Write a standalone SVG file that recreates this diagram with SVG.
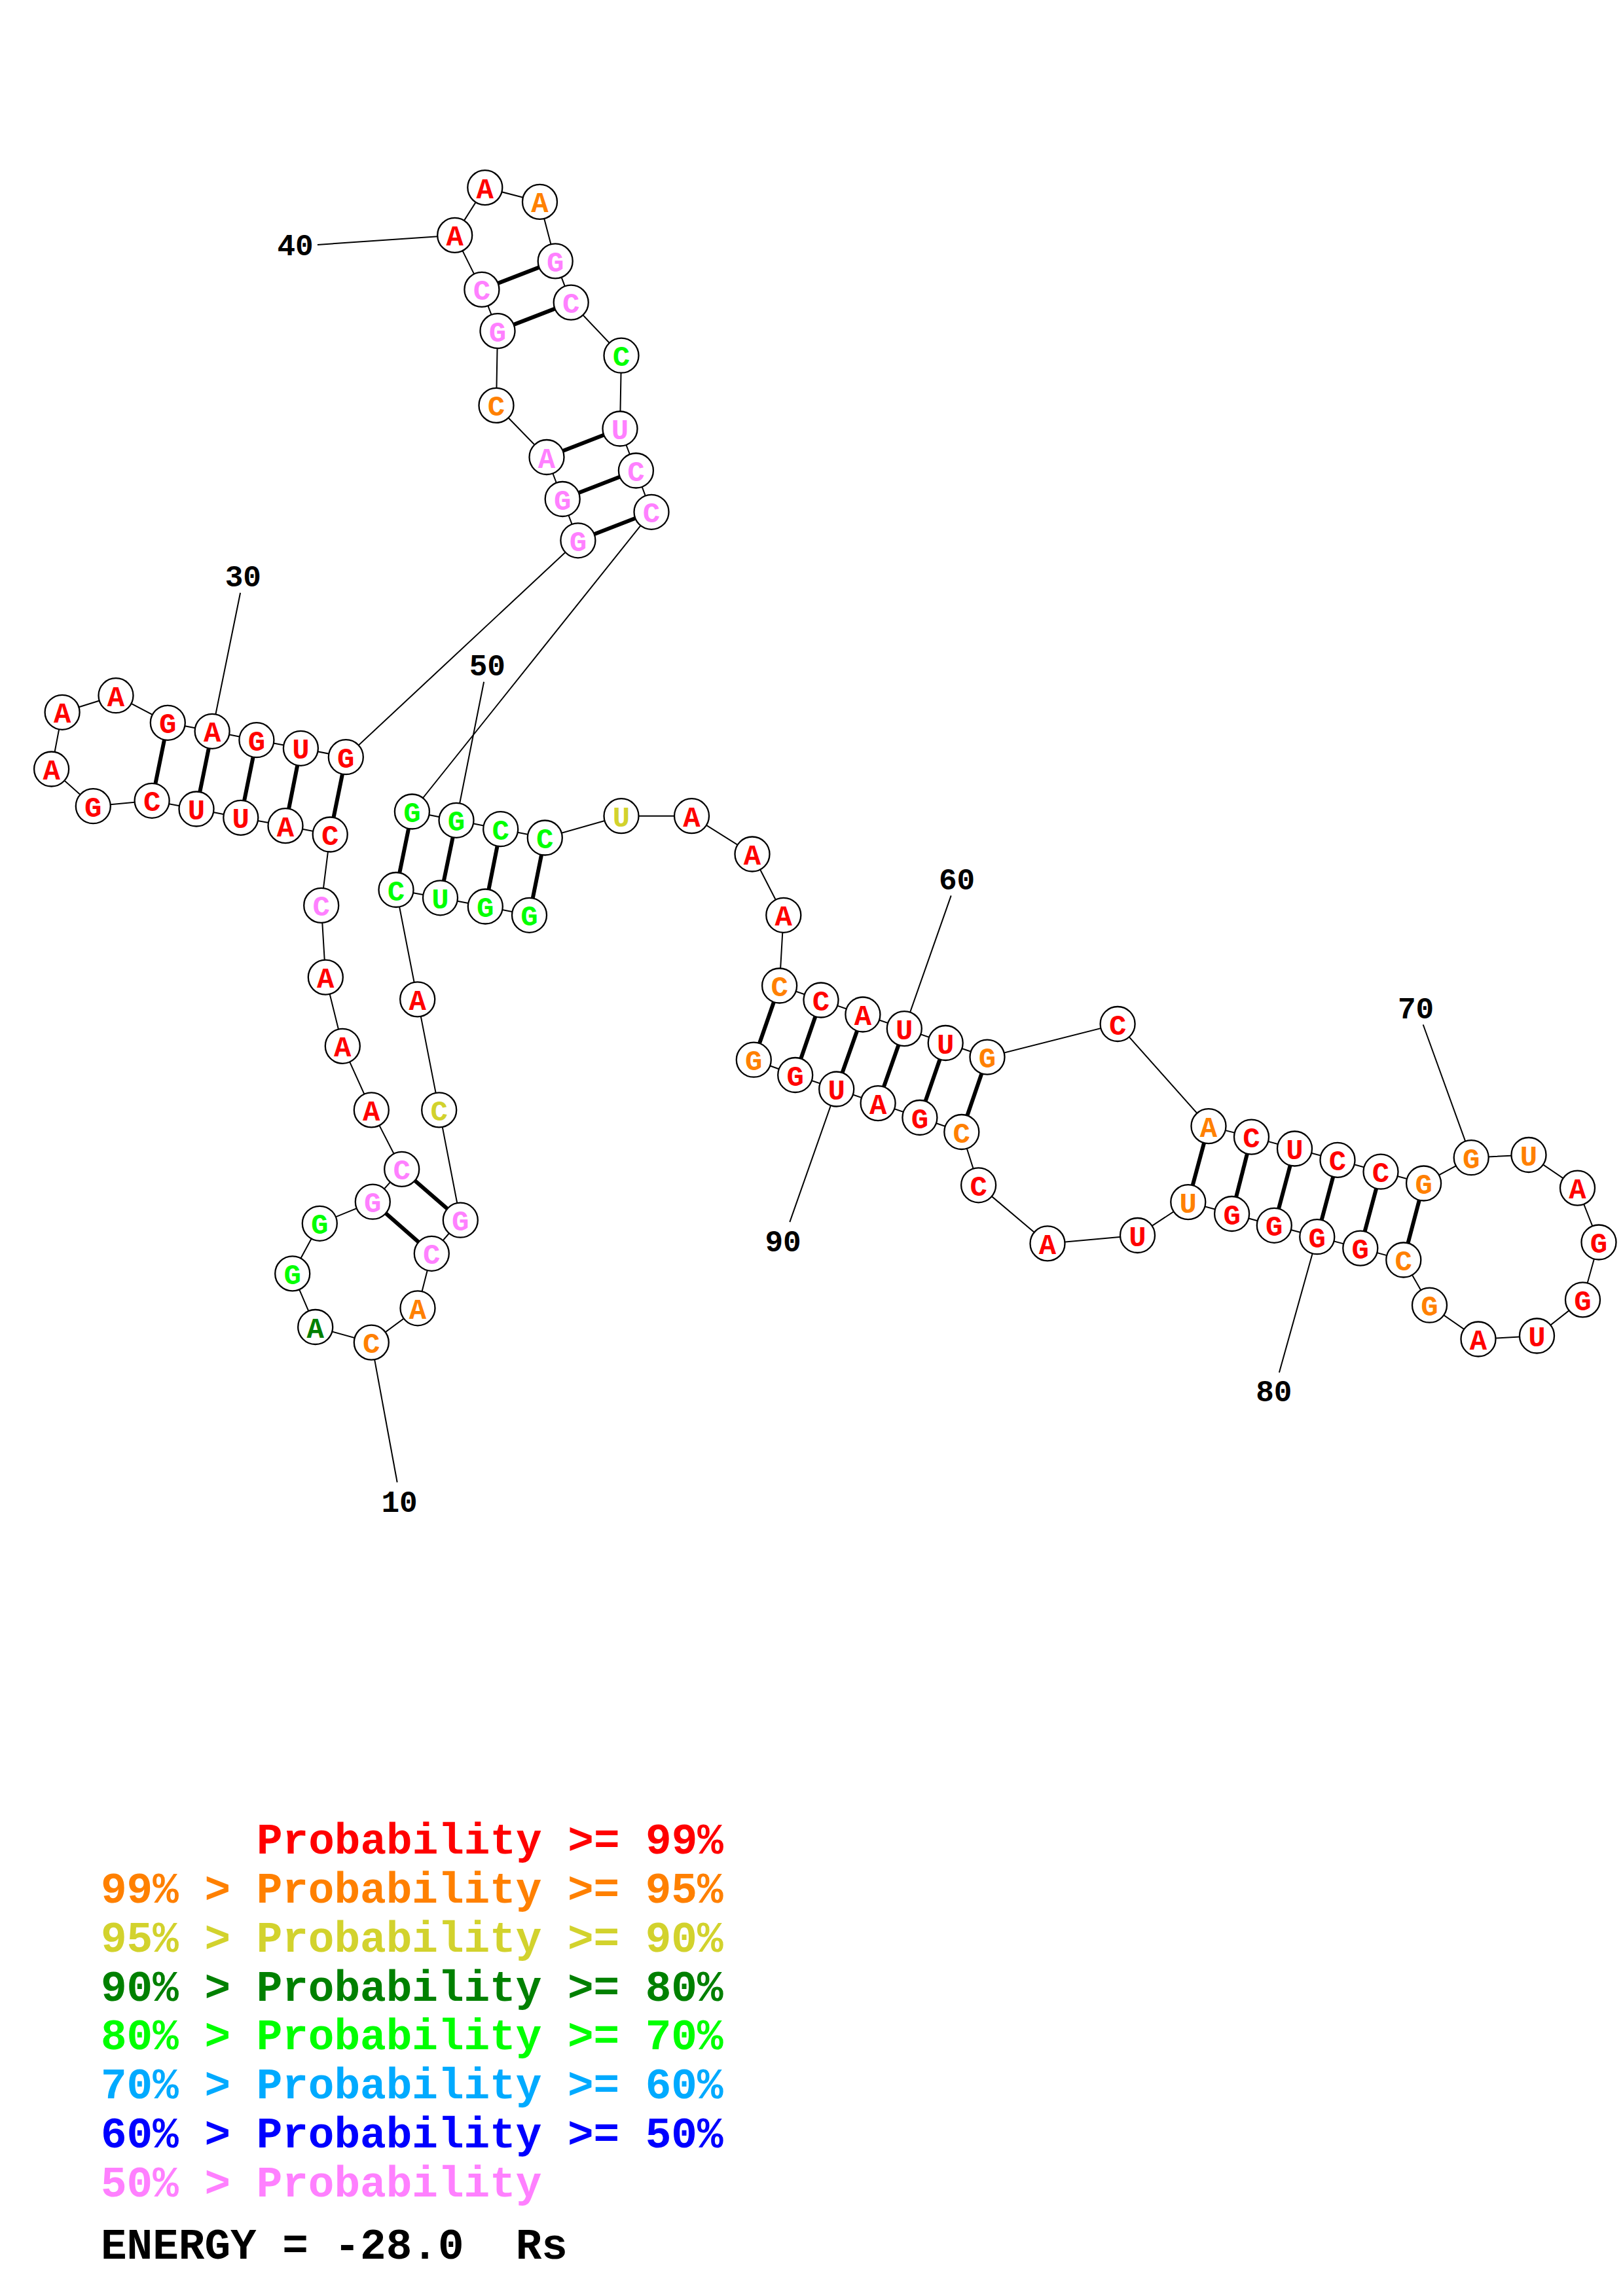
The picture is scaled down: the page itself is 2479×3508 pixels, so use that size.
<svg xmlns="http://www.w3.org/2000/svg" width="2479" height="3508" viewBox="0 0 2479 3508">
<style>
.bb{stroke:#000;stroke-width:2;fill:none}
.bp{stroke:#000;stroke-width:6}
.tk{stroke:#000;stroke-width:2}
.n circle{fill:#fff;stroke:#000;stroke-width:2.3}
.n text{font-family:"Liberation Mono",monospace;font-weight:bold;font-size:44px;text-anchor:middle}
.lb{font-family:"Liberation Mono",monospace;font-weight:bold;font-size:46px;text-anchor:middle;fill:#000}
.lg{font-family:"Liberation Mono",monospace;font-weight:bold;font-size:66px}
.r{fill:#ff0000}.o{fill:#ff8000}.y{fill:#d2d22d}.d{fill:#008000}.g{fill:#00ff00}.c{fill:#00aaff}.b{fill:#0000ff}.p{fill:#ff80ff}.k{fill:#000}
</style>
<rect width="2479" height="3508" fill="#fff"/>
<g id="connectors">
<polyline class="bb" points="808.5,1398.3 741.3,1385 672.5,1371.8 605,1359.5 637.7,1526.9 670.7,1695.9 703.3,1864.2 659.3,1915.3 638,1998.8 567.3,2051.1 481.7,2027.5 446.7,1945.9 488.3,1869.3 569.3,1836.2 613.7,1786.4 567.3,1695.9 523.3,1598.3 497.3,1493.1 490.7,1383.4 504.2,1275 436,1261.7 367.8,1249.3 300,1236 232.1,1223.3 142.3,1231.7 78.6,1175 95.1,1088.3 177,1062.7 256.3,1104.3 324.1,1117.3 391.9,1130.7 459.4,1143.3 528.3,1156.7 882.9,825.8 859.2,762.5 835,698.5 758,619.4 760,505.6 735.9,442.4 694.7,359.4 740.8,286.6 824.5,308.4 848.2,398.9 872.2,462.1 949,543.2 947,655 971.4,719 995,782.3 629.4,1240 697,1253.3 764.7,1266.7 832.3,1280 949,1246.7 1056.5,1246.7 1149,1305 1196.8,1398.3 1190.6,1506 1254,1528 1317.9,1550 1381.3,1571.6 1444.2,1593.5 1508,1615.1 1707.1,1564.5 1846,1720.6 1911.5,1737.1 1977.5,1755 2043,1772.4 2109,1790.2 2174.6,1808 2247.2,1768.7 2335,1764.5 2409.5,1815.1 2442,1898 2417.5,1985.9 2347.5,2041 2258,2046 2183.5,1994.2 2143.8,1925 2077.8,1907.1 2011.8,1889.7 1946.3,1872.3 1881.6,1854.5 1814.8,1836.6 1737.5,1887.5 1600,1899.9 1494.6,1810.8 1468.8,1729.5 1404.9,1707.5 1341.1,1685.6 1277.7,1664 1214.7,1642.5 1151.3,1619.2"/>
<line class="bp" x1="808.5" y1="1398.3" x2="832.3" y2="1280"/>
<line class="bp" x1="741.3" y1="1385" x2="764.7" y2="1266.7"/>
<line class="bp" x1="672.5" y1="1371.8" x2="697" y2="1253.3"/>
<line class="bp" x1="605" y1="1359.5" x2="629.4" y2="1240"/>
<line class="bp" x1="703.3" y1="1864.2" x2="613.7" y2="1786.4"/>
<line class="bp" x1="659.3" y1="1915.3" x2="569.3" y2="1836.2"/>
<line class="bp" x1="504.2" y1="1275" x2="528.3" y2="1156.7"/>
<line class="bp" x1="436" y1="1261.7" x2="459.4" y2="1143.3"/>
<line class="bp" x1="367.8" y1="1249.3" x2="391.9" y2="1130.7"/>
<line class="bp" x1="300" y1="1236" x2="324.1" y2="1117.3"/>
<line class="bp" x1="232.1" y1="1223.3" x2="256.3" y2="1104.3"/>
<line class="bp" x1="882.9" y1="825.8" x2="995" y2="782.3"/>
<line class="bp" x1="859.2" y1="762.5" x2="971.4" y2="719"/>
<line class="bp" x1="835" y1="698.5" x2="947" y2="655"/>
<line class="bp" x1="760" y1="505.6" x2="872.2" y2="462.1"/>
<line class="bp" x1="735.9" y1="442.4" x2="848.2" y2="398.9"/>
<line class="bp" x1="1190.6" y1="1506" x2="1151.3" y2="1619.2"/>
<line class="bp" x1="1254" y1="1528" x2="1214.7" y2="1642.5"/>
<line class="bp" x1="1317.9" y1="1550" x2="1277.7" y2="1664"/>
<line class="bp" x1="1381.3" y1="1571.6" x2="1341.1" y2="1685.6"/>
<line class="bp" x1="1444.2" y1="1593.5" x2="1404.9" y2="1707.5"/>
<line class="bp" x1="1508" y1="1615.1" x2="1468.8" y2="1729.5"/>
<line class="bp" x1="1846" y1="1720.6" x2="1814.8" y2="1836.6"/>
<line class="bp" x1="1911.5" y1="1737.1" x2="1881.6" y2="1854.5"/>
<line class="bp" x1="1977.5" y1="1755" x2="1946.3" y2="1872.3"/>
<line class="bp" x1="2043" y1="1772.4" x2="2011.8" y2="1889.7"/>
<line class="bp" x1="2109" y1="1790.2" x2="2077.8" y2="1907.1"/>
<line class="bp" x1="2174.6" y1="1808" x2="2143.8" y2="1925"/>
<line class="tk" x1="606.7" y1="2264.7" x2="567.3" y2="2051.1"/>
<line class="tk" x1="367.1" y1="905.7" x2="324.1" y2="1117.3"/>
<line class="tk" x1="484.9" y1="373.9" x2="694.7" y2="359.4"/>
<line class="tk" x1="739.1" y1="1041.7" x2="697" y2="1253.3"/>
<line class="tk" x1="1452.7" y1="1368.4" x2="1381.3" y2="1571.6"/>
<line class="tk" x1="2173.7" y1="1565.5" x2="2247.2" y2="1768.7"/>
<line class="tk" x1="1953.9" y1="2097" x2="2011.8" y2="1889.7"/>
<line class="tk" x1="1206.3" y1="1867.2" x2="1277.7" y2="1664"/>
</g>
<g id="nodes">
<g id="n1" class="n"><circle cx="808.5" cy="1398.3" r="26.5"/><text x="808.5" y="1414.3" class="g">G</text></g>
<g id="n2" class="n"><circle cx="741.3" cy="1385" r="26.5"/><text x="741.3" y="1401" class="g">G</text></g>
<g id="n3" class="n"><circle cx="672.5" cy="1371.8" r="26.5"/><text x="672.5" y="1387.8" class="g">U</text></g>
<g id="n4" class="n"><circle cx="605" cy="1359.5" r="26.5"/><text x="605" y="1375.5" class="g">C</text></g>
<g id="n5" class="n"><circle cx="637.7" cy="1526.9" r="26.5"/><text x="637.7" y="1542.9" class="r">A</text></g>
<g id="n6" class="n"><circle cx="670.7" cy="1695.9" r="26.5"/><text x="670.7" y="1711.9" class="y">C</text></g>
<g id="n7" class="n"><circle cx="703.3" cy="1864.2" r="26.5"/><text x="703.3" y="1880.2" class="p">G</text></g>
<g id="n8" class="n"><circle cx="659.3" cy="1915.3" r="26.5"/><text x="659.3" y="1931.3" class="p">C</text></g>
<g id="n9" class="n"><circle cx="638" cy="1998.8" r="26.5"/><text x="638" y="2014.8" class="o">A</text></g>
<g id="n10" class="n"><circle cx="567.3" cy="2051.1" r="26.5"/><text x="567.3" y="2067.1" class="o">C</text></g>
<g id="n11" class="n"><circle cx="481.7" cy="2027.5" r="26.5"/><text x="481.7" y="2043.5" class="d">A</text></g>
<g id="n12" class="n"><circle cx="446.7" cy="1945.9" r="26.5"/><text x="446.7" y="1961.9" class="g">G</text></g>
<g id="n13" class="n"><circle cx="488.3" cy="1869.3" r="26.5"/><text x="488.3" y="1885.3" class="g">G</text></g>
<g id="n14" class="n"><circle cx="569.3" cy="1836.2" r="26.5"/><text x="569.3" y="1852.2" class="p">G</text></g>
<g id="n15" class="n"><circle cx="613.7" cy="1786.4" r="26.5"/><text x="613.7" y="1802.4" class="p">C</text></g>
<g id="n16" class="n"><circle cx="567.3" cy="1695.9" r="26.5"/><text x="567.3" y="1711.9" class="r">A</text></g>
<g id="n17" class="n"><circle cx="523.3" cy="1598.3" r="26.5"/><text x="523.3" y="1614.3" class="r">A</text></g>
<g id="n18" class="n"><circle cx="497.3" cy="1493.1" r="26.5"/><text x="497.3" y="1509.1" class="r">A</text></g>
<g id="n19" class="n"><circle cx="490.7" cy="1383.4" r="26.5"/><text x="490.7" y="1399.4" class="p">C</text></g>
<g id="n20" class="n"><circle cx="504.2" cy="1275" r="26.5"/><text x="504.2" y="1291" class="r">C</text></g>
<g id="n21" class="n"><circle cx="436" cy="1261.7" r="26.5"/><text x="436" y="1277.7" class="r">A</text></g>
<g id="n22" class="n"><circle cx="367.8" cy="1249.3" r="26.5"/><text x="367.8" y="1265.3" class="r">U</text></g>
<g id="n23" class="n"><circle cx="300" cy="1236" r="26.5"/><text x="300" y="1252" class="r">U</text></g>
<g id="n24" class="n"><circle cx="232.1" cy="1223.3" r="26.5"/><text x="232.1" y="1239.3" class="r">C</text></g>
<g id="n25" class="n"><circle cx="142.3" cy="1231.7" r="26.5"/><text x="142.3" y="1247.7" class="r">G</text></g>
<g id="n26" class="n"><circle cx="78.6" cy="1175" r="26.5"/><text x="78.6" y="1191" class="r">A</text></g>
<g id="n27" class="n"><circle cx="95.1" cy="1088.3" r="26.5"/><text x="95.1" y="1104.3" class="r">A</text></g>
<g id="n28" class="n"><circle cx="177" cy="1062.7" r="26.5"/><text x="177" y="1078.7" class="r">A</text></g>
<g id="n29" class="n"><circle cx="256.3" cy="1104.3" r="26.5"/><text x="256.3" y="1120.3" class="r">G</text></g>
<g id="n30" class="n"><circle cx="324.1" cy="1117.3" r="26.5"/><text x="324.1" y="1133.3" class="r">A</text></g>
<g id="n31" class="n"><circle cx="391.9" cy="1130.7" r="26.5"/><text x="391.9" y="1146.7" class="r">G</text></g>
<g id="n32" class="n"><circle cx="459.4" cy="1143.3" r="26.5"/><text x="459.4" y="1159.3" class="r">U</text></g>
<g id="n33" class="n"><circle cx="528.3" cy="1156.7" r="26.5"/><text x="528.3" y="1172.7" class="r">G</text></g>
<g id="n34" class="n"><circle cx="882.9" cy="825.8" r="26.5"/><text x="882.9" y="841.8" class="p">G</text></g>
<g id="n35" class="n"><circle cx="859.2" cy="762.5" r="26.5"/><text x="859.2" y="778.5" class="p">G</text></g>
<g id="n36" class="n"><circle cx="835" cy="698.5" r="26.5"/><text x="835" y="714.5" class="p">A</text></g>
<g id="n37" class="n"><circle cx="758" cy="619.4" r="26.5"/><text x="758" y="635.4" class="o">C</text></g>
<g id="n38" class="n"><circle cx="760" cy="505.6" r="26.5"/><text x="760" y="521.6" class="p">G</text></g>
<g id="n39" class="n"><circle cx="735.9" cy="442.4" r="26.5"/><text x="735.9" y="458.4" class="p">C</text></g>
<g id="n40" class="n"><circle cx="694.7" cy="359.4" r="26.5"/><text x="694.7" y="375.4" class="r">A</text></g>
<g id="n41" class="n"><circle cx="740.8" cy="286.6" r="26.5"/><text x="740.8" y="302.6" class="r">A</text></g>
<g id="n42" class="n"><circle cx="824.5" cy="308.4" r="26.5"/><text x="824.5" y="324.4" class="o">A</text></g>
<g id="n43" class="n"><circle cx="848.2" cy="398.9" r="26.5"/><text x="848.2" y="414.9" class="p">G</text></g>
<g id="n44" class="n"><circle cx="872.2" cy="462.1" r="26.5"/><text x="872.2" y="478.1" class="p">C</text></g>
<g id="n45" class="n"><circle cx="949" cy="543.2" r="26.5"/><text x="949" y="559.2" class="g">C</text></g>
<g id="n46" class="n"><circle cx="947" cy="655" r="26.5"/><text x="947" y="671" class="p">U</text></g>
<g id="n47" class="n"><circle cx="971.4" cy="719" r="26.5"/><text x="971.4" y="735" class="p">C</text></g>
<g id="n48" class="n"><circle cx="995" cy="782.3" r="26.5"/><text x="995" y="798.3" class="p">C</text></g>
<g id="n49" class="n"><circle cx="629.4" cy="1240" r="26.5"/><text x="629.4" y="1256" class="g">G</text></g>
<g id="n50" class="n"><circle cx="697" cy="1253.3" r="26.5"/><text x="697" y="1269.3" class="g">G</text></g>
<g id="n51" class="n"><circle cx="764.7" cy="1266.7" r="26.5"/><text x="764.7" y="1282.7" class="g">C</text></g>
<g id="n52" class="n"><circle cx="832.3" cy="1280" r="26.5"/><text x="832.3" y="1296" class="g">C</text></g>
<g id="n53" class="n"><circle cx="949" cy="1246.7" r="26.5"/><text x="949" y="1262.7" class="y">U</text></g>
<g id="n54" class="n"><circle cx="1056.5" cy="1246.7" r="26.5"/><text x="1056.5" y="1262.7" class="r">A</text></g>
<g id="n55" class="n"><circle cx="1149" cy="1305" r="26.5"/><text x="1149" y="1321" class="r">A</text></g>
<g id="n56" class="n"><circle cx="1196.8" cy="1398.3" r="26.5"/><text x="1196.8" y="1414.3" class="r">A</text></g>
<g id="n57" class="n"><circle cx="1190.6" cy="1506" r="26.5"/><text x="1190.6" y="1522" class="o">C</text></g>
<g id="n58" class="n"><circle cx="1254" cy="1528" r="26.5"/><text x="1254" y="1544" class="r">C</text></g>
<g id="n59" class="n"><circle cx="1317.9" cy="1550" r="26.5"/><text x="1317.9" y="1566" class="r">A</text></g>
<g id="n60" class="n"><circle cx="1381.3" cy="1571.6" r="26.5"/><text x="1381.3" y="1587.6" class="r">U</text></g>
<g id="n61" class="n"><circle cx="1444.2" cy="1593.5" r="26.5"/><text x="1444.2" y="1609.5" class="r">U</text></g>
<g id="n62" class="n"><circle cx="1508" cy="1615.1" r="26.5"/><text x="1508" y="1631.1" class="o">G</text></g>
<g id="n63" class="n"><circle cx="1707.1" cy="1564.5" r="26.5"/><text x="1707.1" y="1580.5" class="r">C</text></g>
<g id="n64" class="n"><circle cx="1846" cy="1720.6" r="26.5"/><text x="1846" y="1736.6" class="o">A</text></g>
<g id="n65" class="n"><circle cx="1911.5" cy="1737.1" r="26.5"/><text x="1911.5" y="1753.1" class="r">C</text></g>
<g id="n66" class="n"><circle cx="1977.5" cy="1755" r="26.5"/><text x="1977.5" y="1771" class="r">U</text></g>
<g id="n67" class="n"><circle cx="2043" cy="1772.4" r="26.5"/><text x="2043" y="1788.4" class="r">C</text></g>
<g id="n68" class="n"><circle cx="2109" cy="1790.2" r="26.5"/><text x="2109" y="1806.2" class="r">C</text></g>
<g id="n69" class="n"><circle cx="2174.6" cy="1808" r="26.5"/><text x="2174.6" y="1824" class="o">G</text></g>
<g id="n70" class="n"><circle cx="2247.2" cy="1768.7" r="26.5"/><text x="2247.2" y="1784.7" class="o">G</text></g>
<g id="n71" class="n"><circle cx="2335" cy="1764.5" r="26.5"/><text x="2335" y="1780.5" class="o">U</text></g>
<g id="n72" class="n"><circle cx="2409.5" cy="1815.1" r="26.5"/><text x="2409.5" y="1831.1" class="r">A</text></g>
<g id="n73" class="n"><circle cx="2442" cy="1898" r="26.5"/><text x="2442" y="1914" class="r">G</text></g>
<g id="n74" class="n"><circle cx="2417.5" cy="1985.9" r="26.5"/><text x="2417.5" y="2001.9" class="r">G</text></g>
<g id="n75" class="n"><circle cx="2347.5" cy="2041" r="26.5"/><text x="2347.5" y="2057" class="r">U</text></g>
<g id="n76" class="n"><circle cx="2258" cy="2046" r="26.5"/><text x="2258" y="2062" class="r">A</text></g>
<g id="n77" class="n"><circle cx="2183.5" cy="1994.2" r="26.5"/><text x="2183.5" y="2010.2" class="o">G</text></g>
<g id="n78" class="n"><circle cx="2143.8" cy="1925" r="26.5"/><text x="2143.8" y="1941" class="o">C</text></g>
<g id="n79" class="n"><circle cx="2077.8" cy="1907.1" r="26.5"/><text x="2077.8" y="1923.1" class="r">G</text></g>
<g id="n80" class="n"><circle cx="2011.8" cy="1889.7" r="26.5"/><text x="2011.8" y="1905.7" class="r">G</text></g>
<g id="n81" class="n"><circle cx="1946.3" cy="1872.3" r="26.5"/><text x="1946.3" y="1888.3" class="r">G</text></g>
<g id="n82" class="n"><circle cx="1881.6" cy="1854.5" r="26.5"/><text x="1881.6" y="1870.5" class="r">G</text></g>
<g id="n83" class="n"><circle cx="1814.8" cy="1836.6" r="26.5"/><text x="1814.8" y="1852.6" class="o">U</text></g>
<g id="n84" class="n"><circle cx="1737.5" cy="1887.5" r="26.5"/><text x="1737.5" y="1903.5" class="r">U</text></g>
<g id="n85" class="n"><circle cx="1600" cy="1899.9" r="26.5"/><text x="1600" y="1915.9" class="r">A</text></g>
<g id="n86" class="n"><circle cx="1494.6" cy="1810.8" r="26.5"/><text x="1494.6" y="1826.8" class="r">C</text></g>
<g id="n87" class="n"><circle cx="1468.8" cy="1729.5" r="26.5"/><text x="1468.8" y="1745.5" class="o">C</text></g>
<g id="n88" class="n"><circle cx="1404.9" cy="1707.5" r="26.5"/><text x="1404.9" y="1723.5" class="r">G</text></g>
<g id="n89" class="n"><circle cx="1341.1" cy="1685.6" r="26.5"/><text x="1341.1" y="1701.6" class="r">A</text></g>
<g id="n90" class="n"><circle cx="1277.7" cy="1664" r="26.5"/><text x="1277.7" y="1680" class="r">U</text></g>
<g id="n91" class="n"><circle cx="1214.7" cy="1642.5" r="26.5"/><text x="1214.7" y="1658.5" class="r">G</text></g>
<g id="n92" class="n"><circle cx="1151.3" cy="1619.2" r="26.5"/><text x="1151.3" y="1635.2" class="o">G</text></g>
</g>
<g id="labels">
<text class="lb" x="610" y="2310">10</text>
<text class="lb" x="371.3" y="896">30</text>
<text class="lb" x="451" y="390">40</text>
<text class="lb" x="744.3" y="1032">50</text>
<text class="lb" x="1461.6" y="1359">60</text>
<text class="lb" x="2162.5" y="1556">70</text>
<text class="lb" x="1945.8" y="2141">80</text>
<text class="lb" x="1196" y="1912">90</text>
</g>
<g id="legend">
<text class="lg r" x="392" y="2832">Probability &gt;= 99%</text>
<text class="lg o" x="154" y="2907">99% &gt; Probability &gt;= 95%</text>
<text class="lg y" x="154" y="2982">95% &gt; Probability &gt;= 90%</text>
<text class="lg d" x="154" y="3057">90% &gt; Probability &gt;= 80%</text>
<text class="lg g" x="154" y="3131">80% &gt; Probability &gt;= 70%</text>
<text class="lg c" x="154" y="3206">70% &gt; Probability &gt;= 60%</text>
<text class="lg b" x="154" y="3281">60% &gt; Probability &gt;= 50%</text>
<text class="lg p" x="154" y="3356">50% &gt; Probability</text>
<text class="lg k" x="154" y="3451" xml:space="preserve">ENERGY = -28.0  Rs</text>
</g>
</svg>
